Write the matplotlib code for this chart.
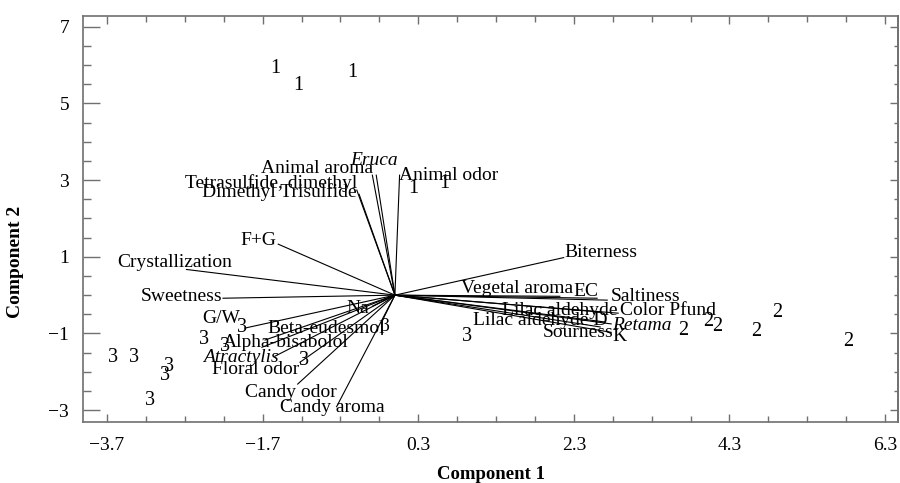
import matplotlib
matplotlib.use('Agg')
import matplotlib.pyplot as plt
import numpy as np
from matplotlib.ticker import FixedLocator

plt.rcParams['font.family'] = 'Liberation Serif'

# variable loadings (vector end points)
var_names = ['Crystallization', 'Sweetness', 'F+G', 'Tetrasulfide, dimethyl',
             'Dimethyl Trisulfide', 'Animal aroma', 'Eruca', 'Animal odor',
             'Biterness', 'Vegetal aroma', 'EC', 'Saltiness', 'Lilac aldehyde',
             'Color Pfund', 'Lilac aldehyde D', 'Retama', 'Sourness', 'K',
             'Na', 'G/W', 'Beta-eudesmol', 'β', 'Alpha-bisabolol', 'Atractylis',
             'Floral odor', 'Candy odor', 'Candy aroma']
var_x = [-2.68, -2.21, -1.50, -0.49, -0.46, -0.29, -0.24, 0.06,
         2.17, 2.12, 2.60, 2.73, 2.64, 2.87, 2.70, 2.78, 2.64, 2.78,
         -0.29, -1.93, -1.67, -0.17, -1.71, -1.54, -1.22, -1.25, -0.75]
var_y = [0.67, -0.08, 1.33, 2.74, 2.63, 3.13, 3.13, 3.13,
         0.98, -0.03, -0.08, -0.13, -0.44, -0.47, -0.70, -0.75, -0.83, -0.97,
         -0.29, -0.86, -1.17, -0.70, -1.36, -1.59, -1.75, -2.32, -2.91]
italic_names = ['Eruca', 'Retama', 'Atractylis']

# sample scores by group
g1_x = [-1.54, -1.24, -0.55, 0.24, 0.63]
g1_y = [5.91, 5.48, 5.81, 2.78, 2.91]
g2_x = [4.91, 3.71, 4.03, 4.14, 4.65, 5.83]
g2_y = [-0.44, -0.91, -0.70, -0.83, -0.96, -1.22]
g3_x = [-3.62, -3.36, -2.91, -2.95, -3.15, -2.46, -1.97, -2.19, -1.17, 0.93]
g3_y = [-1.63, -1.63, -1.85, -2.09, -2.74, -1.16, -0.85, -1.35, -1.70, -1.07]

xticks = [-3.7, -1.7, 0.3, 2.3, 4.3, 6.3]
yticks = [7, 5, 3, 1, -1, -3]

# where each variable name sits (layout only)
label_pos = {
    'Crystallization': (-2.83, 0.86, 'center'),
    'Sweetness': (-2.22, -0.04, 'right'),
    'F+G': (-1.53, 1.43, 'right'),
    'Tetrasulfide, dimethyl': (-0.49, 2.92, 'right'),
    'Dimethyl Trisulfide': (-0.49, 2.69, 'right'),
    'Animal aroma': (-0.28, 3.31, 'right'),
    'Eruca': (-0.27, 3.50, 'center'),
    'Animal odor': (0.05, 3.13, 'left'),
    'Biterness': (2.18, 1.10, 'left'),
    'Vegetal aroma': (0.85, 0.18, 'left'),
    'EC': (2.29, 0.09, 'left'),
    'Saltiness': (2.78, -0.03, 'left'),
    'Lilac aldehyde': (1.38, -0.39, 'left'),
    'Color Pfund': (2.90, -0.39, 'left'),
    'Lilac aldehyde D': (1.00, -0.65, 'left'),
    'Retama': (2.79, -0.78, 'left'),
    'Sourness': (1.90, -0.97, 'left'),
    'K': (2.79, -1.07, 'left'),
    'Na': (-0.62, -0.34, 'left'),
    'G/W': (-2.48, -0.60, 'left'),
    'Beta-eudesmol': (-1.64, -0.86, 'left'),
    'β': (-0.19, -0.83, 'left'),
    'Alpha-bisabolol': (-2.21, -1.23, 'left'),
    'Atractylis': (-2.47, -1.62, 'left'),
    'Floral odor': (-2.35, -1.93, 'left'),
    'Candy odor': (-1.93, -2.53, 'left'),
    'Candy aroma': (-1.48, -2.92, 'left'),
}

fig = plt.figure(figsize=(9, 4.83), dpi=100)
ax = fig.add_axes([0.0922, 0.127, 0.9058, 0.8405])

for name, x, y in zip(var_names, var_x, var_y):
    ax.plot([0, x], [0, y], color='black', lw=0.8)
    lx, ly, ha = label_pos[name]
    style = 'italic' if name in italic_names else 'normal'
    ax.text(lx, ly, name, ha=ha, va='center', fontsize=14, style=style)

for lab, xs, ys in [('1', g1_x, g1_y), ('2', g2_x, g2_y), ('3', g3_x, g3_y)]:
    for x, y in zip(xs, ys):
        ax.text(x, y, lab, ha='center', va='center', fontsize=14.5)

ax.set_xlim(-4.01, 6.47)
ax.set_ylim(-3.3, 7.29)

spine_col = '#707070'
for s in ax.spines.values():
    s.set_color(spine_col)
    s.set_linewidth(1.2)

ax.xaxis.set_major_locator(FixedLocator(xticks))
ax.xaxis.set_minor_locator(FixedLocator(np.arange(-3.7, 6.5, 0.5)))
ax.yaxis.set_major_locator(FixedLocator(yticks))
ax.yaxis.set_minor_locator(FixedLocator(np.arange(-3, 7.1, 0.5)))
ax.set_xticklabels(['\u22123.7', '\u22121.7', '0.3', '2.3', '4.3', '6.3'])
ax.set_yticklabels(['7', '5', '3', '1', '\u22121', '\u22123'])

ax.tick_params(axis='x', which='both', direction='in', top=True, color=spine_col,
               labelsize=14, pad=11)
ax.tick_params(axis='x', which='major', length=6, width=1)
ax.tick_params(axis='x', which='minor', length=4, width=1)
ax.tick_params(axis='y', which='both', direction='in', color=spine_col,
               labelsize=14, pad=10)
ax.tick_params(axis='y', which='major', length=12, width=1)
ax.tick_params(axis='y', which='minor', length=6, width=1)

sec = ax.secondary_yaxis('right')
sec.yaxis.set_major_locator(FixedLocator(yticks))
sec.yaxis.set_minor_locator(FixedLocator(np.arange(-3, 7.1, 0.5)))
sec.tick_params(which='both', direction='in', color=spine_col, labelright=False)
sec.tick_params(which='major', length=6, width=1)
sec.tick_params(which='minor', length=3, width=1)
sec.spines['right'].set_color(spine_col)
sec.spines['right'].set_linewidth(1.2)

ax.set_xlabel('Component 1', fontsize=13.5, fontweight='bold', labelpad=9)
ax.set_ylabel('Component 2', fontsize=14, fontweight='bold')
ax.yaxis.set_label_coords(-0.072, 0.393)

fig.savefig('out.png', dpi=100)
